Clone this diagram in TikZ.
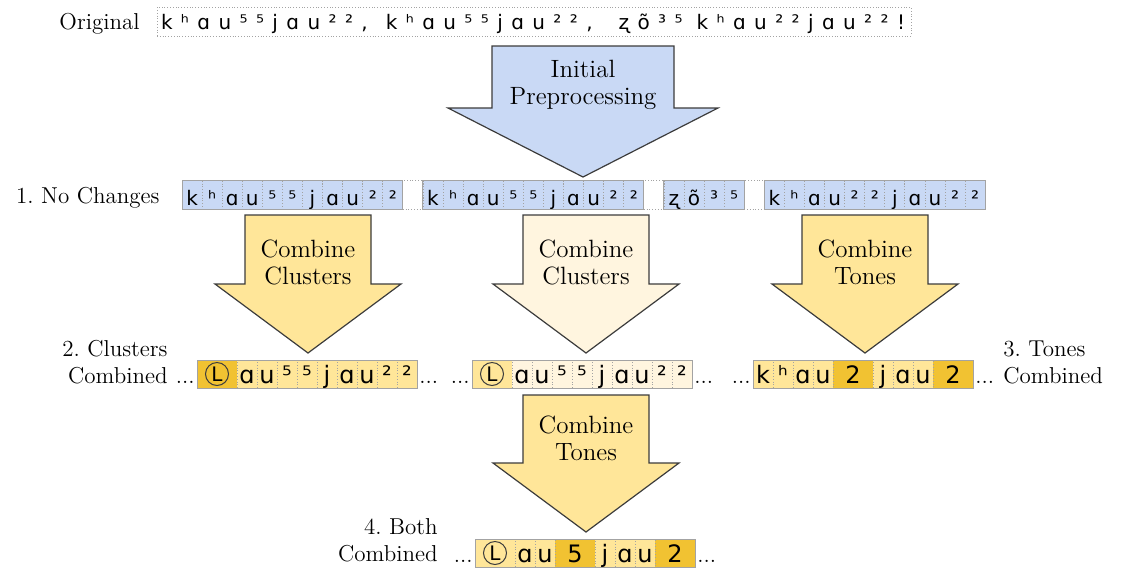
\documentclass[tikz,border=0pt]{standalone}
\usepackage{fontspec}
\usepackage{tikz}
\usetikzlibrary{positioning}
\newfontfamily\ipafont{DejaVu Sans}
\newfontfamily\origfont[LetterSpace=42]{DejaVu Sans}
\definecolor{Sky}{HTML}{C9D9F5}
\definecolor{Butter}{HTML}{FFE699}
\definecolor{Cream}{HTML}{FFF5DF}
\definecolor{Gold}{HTML}{F1C232}
\definecolor{Ink}{HTML}{3C3C3C}
\definecolor{Rule}{HTML}{A3A3A3}
\tikzset{
 lbl/.style={font=\fontsize{11.5}{13.5}\selectfont,inner sep=0pt},
 arrlbl/.style={font=\fontsize{12.5}{13.5}\selectfont,align=center,inner sep=0pt},
 bigarr/.style={draw=Ink,line width=0.6pt,line join=miter},
 tok/.style={draw=Rule,densely dotted,inner sep=0pt,outer sep=0pt,minimum height=14pt,
   text height=9pt,text depth=0pt,font=\ipafont\fontsize{12}{14}\selectfont},
 tokS/.style={tok,minimum width=10.04pt,minimum height=14.5pt,text height=10.5pt,
   font=\ipafont\fontsize{10}{12}\selectfont,anchor=west},
 circL/.style={draw=Ink,line width=0.5pt,circle,minimum size=11.5pt,inner sep=0pt,
   font=\ipafont\fontsize{10}{10}\selectfont},
 frame/.style={draw=Rule,line width=0.5pt},
 dots/.style={font=\fontsize{11.5}{13}\selectfont,inner sep=0pt,text height=9pt,text depth=0pt},
 origbox/.style={draw=Rule,densely dotted,text width=373pt,align=left,minimum height=14.5pt,
   inner xsep=2pt,inner ysep=0pt,text height=7.5pt,text depth=0pt,
   font=\origfont\fontsize{10}{12}\selectfont}
}
% one strip of token cells, chained left to right: name, x, y, {width/fill/char,...}
\newcommand\tokstrip[4]{%
  \coordinate (#1-0) at (#2,#3);
  \foreach \w/\f/\c [count=\i, remember=\i as \j (initially 0)] in {#4}
    \node[tok,minimum width=\w,fill=\f,right=0pt of #1-\j] (#1-\i) {\c};
}
% block arrow: fill, centre x, top, shaft half width, head half width, head base
\newcommand\blockarrow[6]{%
  \draw[bigarr,fill=#1] ({#2-#4},#3) -- ({#2+#4},#3) -- ({#2+#4},#6) -- ({#2+#5},#6)
    -- (#2,{#6+69}) -- ({#2-#5},#6) -- ({#2-#4},#6) -- cycle;
}

\begin{document}
\begin{tikzpicture}[x=0.5pt,y=-0.5pt]
\useasboundingbox (0,0) rectangle (1126,569);

% original sentence
\node[origbox] (orig) at (534,21.5)
  {kʰɑu⁵⁵jɑu²²,\hspace{9pt}kʰɑu⁵⁵jɑu²²,\hspace{13pt}ʐõ³⁵\hspace{7pt}kʰɑu²²jɑu²²!};
\node[lbl,anchor=base east] (lab0) at (140,29) {Original};

% arrows
\blockarrow{Sky}{583}{46}{91}{135}{108}
\node[arrlbl] (arr0) at (583,85) {Initial\\Preprocessing};
\blockarrow{Butter}{308}{215}{63}{93}{284}
\node[arrlbl] (arr1) at (308,262) {Combine\\Clusters};
\blockarrow{Cream}{586}{215}{63}{93}{284}
\node[arrlbl] (arr2) at (586,262) {Combine\\Clusters};
\blockarrow{Butter}{865}{215}{63}{93}{284}
\node[arrlbl] (arr3) at (865,262) {Combine\\Tones};
\blockarrow{Butter}{586}{395}{63}{93}{463}
\node[arrlbl] (arr4) at (586,438) {Combine\\Tones};

% 1. no changes
\foreach \s/\chars in {1/{k,ʰ,ɑ,u,⁵,⁵,j,ɑ,u,²,²},13/{k,ʰ,ɑ,u,⁵,⁵,j,ɑ,u,²,²},
    25/{ʐ,õ,³,⁵},30/{k,ʰ,ɑ,u,²,²,j,ɑ,u,²,²}}
  \foreach \c [count=\i from \s] in \chars
    \node[tokS,fill=Sky] (r1-\i) at ({182+20.08*(\i-1)},194.5) {\c};
\foreach \g in {12,24,29}
  \node[tokS,fill=white] (r1-\g) at ({182+20.08*(\g-1)},194.5) {};
\draw[frame] (r1-1.north west) rectangle (r1-11.south east);
\draw[frame] (r1-13.north west) rectangle (r1-23.south east);
\draw[frame] (r1-25.north west) rectangle (r1-28.south east);
\draw[frame] (r1-30.north west) rectangle (r1-40.south east);
\node[lbl,anchor=base east] (lab1) at (160,203) {1.\ No Changes};

% 2. clusters combined
\tokstrip{cA}{197}{374}{20pt/Gold/{},10pt/Butter/ɑ,10pt/Butter/u,10pt/Butter/⁵,10pt/Butter/⁵,
  10pt/Butter/j,10pt/Butter/ɑ,10pt/Butter/u,10pt/Butter/²,10pt/Butter/²}
\tokstrip{cB}{472}{374}{20pt/Butter/{},10pt/Cream/ɑ,10pt/Cream/u,10pt/Cream/⁵,10pt/Cream/⁵,
  10pt/Cream/j,10pt/Cream/ɑ,10pt/Cream/u,10pt/Cream/²,10pt/Cream/²}
% 3. tones combined
\tokstrip{cC}{753}{374}{10pt/Butter/k,10pt/Butter/ʰ,10pt/Butter/ɑ,10pt/Butter/u,20pt/Gold/2,
  10pt/Butter/j,10pt/Butter/ɑ,10pt/Butter/u,20pt/Gold/2}
% 4. both combined
\tokstrip{cD}{475}{553}{20pt/Butter/{},10pt/Butter/ɑ,10pt/Butter/u,20pt/Gold/5,
  10pt/Butter/j,10pt/Butter/ɑ,10pt/Butter/u,20pt/Gold/2}
\draw[frame] (cA-1.north west) rectangle (cA-10.south east);
\draw[frame] (cB-1.north west) rectangle (cB-10.south east);
\draw[frame] (cC-1.north west) rectangle (cC-9.south east);
\draw[frame] (cD-1.north west) rectangle (cD-8.south east);

% circled L for the merged clusters
\node[circL] (cA-L) at (cA-1) {L};
\node[circL] (cB-L) at (cB-1) {L};
\node[circL] (cD-L) at (cD-1) {L};

\node[dots,left=1pt of cA-1] (cA-l) {...};
\node[dots,right=1pt of cA-10] (cA-r) {...};
\node[dots,left=1pt of cB-1] (cB-l) {...};
\node[dots,right=1pt of cB-10] (cB-r) {...};
\node[dots,left=1pt of cC-1] (cC-l) {...};
\node[dots,right=1pt of cC-9] (cC-r) {...};
\node[dots,left=1pt of cD-1] (cD-l) {...};
\node[dots,right=1pt of cD-8] (cD-r) {...};

\node[lbl,align=right,anchor=east] (lab2) at (168,362.5) {2.\ Clusters\\Combined};
\node[lbl,align=left,anchor=west] (lab3) at (1003,362.5) {3.\ Tones\\Combined};
\node[lbl,align=right,anchor=east] (lab4) at (438,540.5) {4.\ Both\\Combined};
\end{tikzpicture}
\end{document}
